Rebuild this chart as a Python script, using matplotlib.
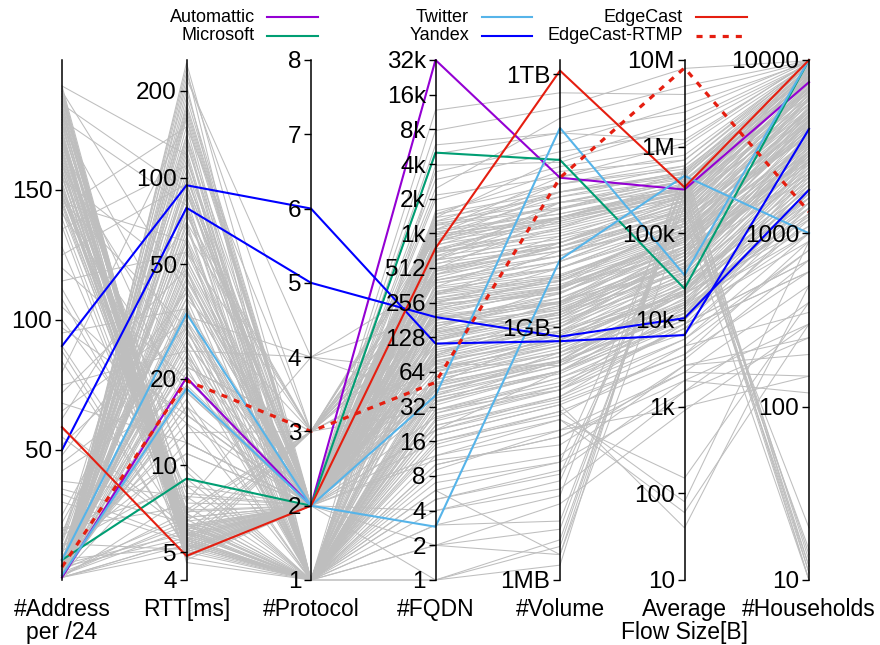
import numpy as np
import matplotlib
matplotlib.use("Agg")
import matplotlib.pyplot as plt
from matplotlib.lines import Line2D
from matplotlib.ticker import FixedLocator, NullLocator

plt.rcParams['font.family'] = ['Liberation Sans', 'DejaVu Sans']

# ---------------- axes definitions ----------------
axis_names = ['#Address\nper /24', 'RTT[ms]', '#Protocol', '#FQDN', '#Volume',
              'Average\nFlow Size[B]', '#Households']
axis_scales = ['linear', 'log', 'linear', 'log', 'log', 'log', 'log']
axis_limits = [(0, 200), (4, 256), (1, 8), (1, 32768), (1e6, 1.47e12), (10, 1e7), (10, 1e4)]
axis_ticks = [
    [50, 100, 150],
    [4, 5, 10, 20, 50, 100, 200],
    [1, 2, 3, 4, 5, 6, 7, 8],
    [1, 2, 4, 8, 16, 32, 64, 128, 256, 512, 1024, 2048, 4096, 8192, 16384, 32768],
    [1e6, 1e9, 1e12],
    [10, 100, 1e3, 1e4, 1e5, 1e6, 1e7],
    [10, 100, 1000, 10000],
]
axis_ticklabels = [
    ['50', '100', '150'],
    ['4', '5', '10', '20', '50', '100', '200'],
    ['1', '2', '3', '4', '5', '6', '7', '8'],
    ['1', '2', '4', '8', '16', '32', '64', '128', '256', '512', '1k', '2k', '4k', '8k', '16k', '32k'],
    ['1MB', '1GB', '1TB'],
    ['10', '100', '1k', '10k', '100k', '1M', '10M'],
    ['10', '100', '1000', '10000'],
]

# ---------------- highlighted series ----------------
# columns: addr, rtt, proto, fqdn, volume[B], avg flow[B], households
automattic = [1, 20.2, 2, 32768, 5.9e10, 3.2e5, 7450]
microsoft = [7.7, 9.0, 2, 5140, 9.6e10, 2.3e4, 10000]
twitter_1 = [7.7, 33.7, 2, 40, 2.3e11, 3.3e4, 10000]
twitter_2 = [1.8, 18.5, 2, 2.9, 6.3e9, 4.6e5, 1000]
yandex_1 = [50, 78.5, 5, 192, 7.7e8, 1.05e4, 1780]
yandex_2 = [90, 94, 6, 113, 6.8e8, 6.7e3, 4000]
edgecast = [58.8, 4.85, 2, 760, 1.1e12, 3.4e5, 10000]
edgecast_rtmp = [5, 19.7, 3, 52, 5.9e10, 8.1e6, 1330]

# ---------------- background (grey) series ----------------
grey_addr = [
    188, 185, 183, 180, 178, 176, 175, 172, 170, 168,
    166, 165, 163, 160, 158, 157, 155, 153, 150, 149,
    147, 146, 145, 143, 190, 187, 182, 179, 174, 171,
    167, 162, 159, 154, 151, 148, 144, 141, 186, 177,
    1, 2, 1, 3, 2, 4, 1, 5, 6, 2,
    8, 3, 1, 10, 4, 2, 12, 7, 1, 3,
    15, 2, 5, 9, 1, 18, 4, 2, 6, 1,
    22, 3, 11, 2, 14, 1, 7, 25, 3, 5,
    1, 2, 8, 20, 4, 1, 13, 6, 2, 16,
    30, 35, 42, 48, 55, 62, 68, 75, 80, 88,
    95, 100, 108, 115, 120, 128, 135, 38, 65, 105,
    189, 184, 181, 177, 173, 169, 164, 161, 156, 152,
    148, 145, 142, 139, 136, 188, 183, 175, 170, 165,
    160, 155, 150, 146, 190, 186, 180, 172, 168, 158,
    1, 1, 2, 3, 1, 2, 4, 1, 2, 5,
    3, 1, 6, 2, 1, 7, 2, 3, 1, 9,
    2, 4, 1, 12, 3, 1, 2, 5, 1, 17,
    2, 1, 3, 8, 1, 2, 10, 1, 4, 2,
    1, 6, 3, 1, 2, 14, 1, 5, 2, 19,
    33, 45, 58, 72, 84, 97, 112, 125, 52, 90]
grey_rtt = [
    5.2, 5.5, 4.8, 6.0, 5.8, 5.1, 6.5, 5.4, 4.9, 5.6,
    7.0, 5.3, 6.2, 5.0, 5.7, 8.0, 5.9, 4.7, 6.8, 5.5,
    12, 30, 60, 150, 5.3, 5.8, 6.1, 4.6, 7.5, 5.2,
    9.5, 5.6, 22, 45, 5.1, 6.4, 5.4, 18, 5.7, 80,
    20, 35, 50, 65, 100, 150, 200, 240, 15, 12,
    28, 45, 70, 120, 180, 25, 40, 30, 55, 90,
    110, 16, 14, 22, 75, 60, 35, 130, 210, 24,
    38, 48, 11, 19, 85, 170, 26, 42, 33, 95,
    5.5, 6.0, 5.2, 7.2, 6.6, 5.0, 9.0, 27, 52, 140,
    5.4, 6.3, 18, 40, 5.9, 70, 12, 25, 160, 5.1,
    35, 8.5, 6.8, 55, 20, 5.6, 110, 7.8, 32, 14,
    5.0, 5.4, 5.7, 6.2, 5.3, 4.9, 5.8, 6.6, 5.1, 5.5,
    7.4, 5.9, 6.0, 5.2, 4.8, 40, 90, 25, 5.6, 6.3,
    5.1, 5.4, 10, 5.7, 120, 5.2, 6.8, 5.0, 15, 5.3,
    18, 24, 32, 44, 60, 80, 105, 140, 190, 230,
    16, 21, 29, 38, 52, 68, 88, 115, 160, 13,
    27, 36, 47, 62, 78, 100, 135, 175, 220, 11,
    17, 23, 31, 42, 57, 74, 95, 125, 165, 250,
    5.3, 5.8, 6.2, 5.5, 6.9, 5.1, 7.8, 5.6, 6.4, 8.5,
    5.5, 22, 6.1, 48, 5.2, 15, 7.0, 95, 30, 5.9]
grey_proto = [
    2, 1, 2, 1, 2, 2, 1, 3, 2, 1,
    2, 1, 1, 2, 3, 2, 1, 2, 1, 2,
    2, 1, 2, 3, 1, 2, 2, 1, 4, 2,
    1, 2, 3, 2, 1, 2, 1, 2, 2, 1,
    2, 1, 2, 3, 2, 1, 2, 1, 2, 2,
    1, 2, 3, 1, 2, 4, 2, 1, 2, 2,
    1, 2, 1, 3, 2, 1, 2, 2, 1, 2,
    3, 1, 2, 2, 1, 2, 1, 2, 4, 2,
    1, 2, 2, 1, 2, 3, 1, 2, 2, 1,
    2, 1, 2, 2, 3, 1, 2, 1, 2, 2,
    1, 2, 1, 3, 2, 1, 2, 2, 1, 2,
    2, 1, 2, 2, 1, 2, 1, 2, 2, 1,
    2, 1, 2, 3, 1, 2, 2, 1, 2, 1,
    2, 2, 1, 2, 1, 2, 3, 1, 2, 2,
    2, 1, 2, 2, 1, 2, 1, 2, 2, 3,
    1, 2, 2, 1, 2, 1, 2, 2, 1, 3,
    2, 1, 2, 2, 1, 2, 1, 2, 4, 2,
    1, 2, 2, 1, 2, 3, 2, 1, 2, 2,
    2, 1, 2, 1, 2, 2, 1, 2, 3, 1,
    2, 1, 2, 2, 1, 2, 3, 1, 2, 2]
grey_fqdn = [
    120, 40, 300, 8, 600, 200, 25, 900, 64, 3,
    450, 15, 90, 1100, 150, 35, 6, 250, 500, 80,
    1400, 12, 700, 180, 50, 2500, 20, 110, 400, 1,
    60, 350, 75, 800, 30, 220, 4, 1000, 140, 9,
    95, 20, 1200, 300, 45, 2, 650, 130, 5000, 260,
    18, 85, 550, 10, 1500, 200, 70, 28, 3500, 160,
    7, 420, 55, 900, 240, 1, 100, 750, 33, 2000,
    380, 14, 600, 48, 5, 170, 280, 1300, 65, 8000,
    24, 480, 120, 3, 320, 1000, 42, 210, 11, 700,
    160, 22, 500, 88, 1100, 6, 260, 38, 3000, 140,
    16, 720, 52, 400, 190, 2, 850, 110, 30, 12000,
    200, 60, 450, 130, 35, 900, 18, 320, 75, 1300,
    160, 48, 600, 250, 5, 1000, 110, 28, 700, 380,
    90, 2, 1500, 55, 230, 12, 480, 140, 6000, 40,
    280, 65, 1100, 150, 38, 520, 85, 16, 820, 190,
    1200, 44, 350, 125, 4, 650, 270, 70, 1400, 30,
    180, 960, 58, 400, 10, 220, 1600, 95, 36, 560,
    145, 750, 26, 310, 1050, 68, 2200, 170, 50, 450,
    120, 1, 880, 240, 80, 1250, 22, 340, 600, 105,
    300, 45, 1000, 135, 700, 20, 260, 4000, 78, 500]
grey_vol = [
    2e9, 5e8, 8e9, 3e7, 3e10, 1e9, 2e8, 4e10, 6e8, 5e6,
    1.2e10, 1e8, 1.5e9, 6e10, 3e9, 4e8, 2e6, 5e9, 2e10, 7e8,
    1e11, 8e7, 1.5e10, 2.5e9, 9e8, 3e11, 1.5e8, 1.2e9, 7e9, 1.5e6,
    5e8, 1e10, 3.5e8, 2.5e10, 2.5e8, 4e9, 1.2e7, 5e10, 1.8e9, 6e7,
    1.1e9, 3e8, 4e10, 6e9, 4e8, 8e6, 2e10, 1.3e9, 2e11, 3.5e9,
    1.2e8, 8e8, 1.5e10, 5e7, 7e10, 2e9, 6e8, 2e8, 1.5e11, 2.5e9,
    2.5e7, 9e9, 5e8, 3e10, 3e9, 3e6, 9e8, 2e10, 3e8, 8e10,
    6e9, 8e7, 1.8e10, 4.5e8, 1.8e7, 1.6e9, 4e9, 5e10, 7e8, 4e11,
    1.8e8, 1e10, 1.5e9, 1e7, 5e9, 3.5e10, 3.5e8, 2.8e9, 4e7, 2.5e10,
    2.2e9, 1.5e8, 1e10, 1e9, 4e10, 2.5e7, 3.5e9, 3e8, 1.2e11, 1.4e9,
    9e7, 2e10, 4e8, 7e9, 1.9e9, 2e6, 3e10, 1.3e9, 1.8e8, 6e11,
    3e9, 6e8, 9e9, 1.5e9, 3e8, 2e10, 1.2e8, 4e9, 8e8, 3e10,
    2e9, 4e8, 1e10, 2.5e9, 2e7, 2e10, 1e9, 2.5e8, 1.2e10, 5e9,
    1.2e9, 4e6, 4e10, 5e8, 2.8e9, 6e7, 8e9, 1.8e9, 2e11, 3.5e8,
    3.5e9, 7e8, 2.2e10, 1.7e9, 3e8, 9e9, 9e8, 1e8, 1.6e10, 2.2e9,
    2.5e10, 3.8e8, 5e9, 1.4e9, 1.5e7, 1.1e10, 3.2e9, 7.5e8, 3.5e10, 2.2e8,
    2e9, 1.8e10, 5.5e8, 6e9, 5e7, 2.6e9, 5e10, 1e9, 2.8e8, 9e9,
    1.6e9, 1.4e10, 1.8e8, 3.8e9, 2.2e10, 6.5e8, 6e10, 1.9e9, 4.5e8, 7e9,
    1.3e9, 2.5e6, 1.7e10, 2.9e9, 8.5e8, 2.6e10, 1.4e8, 4.2e9, 1e10, 1.1e9,
    3.6e9, 3.8e8, 1.9e10, 1.5e9, 1.3e10, 1.3e8, 3e9, 9e10, 7e8, 8e9]
grey_avg = [
    4e4, 1.5e4, 1.2e5, 3e3, 3e5, 6e4, 8e3, 5e5, 2.5e4, 2.5e5,
    1.8e5, 80, 7e4, 8e5, 9e4, 2e4, 1.5e5, 1.4e5, 2.5e5, 3e4,
    2e6, 150, 3.5e5, 1e5, 2e4, 5e6, 6e3, 5e4, 2e5, 6e5,
    1.2e4, 2.8e5, 1.8e4, 4e5, 9e3, 1.1e5, 1.5e3, 6e5, 8e4, 2.5e3,
    4.5e4, 1.1e4, 4.5e5, 1.6e5, 2.2e4, 900, 3.2e5, 5.5e4, 1.2e6, 1.3e5,
    40, 3.5e4, 2.6e5, 2e3, 7e5, 1e5, 2.8e4, 1.4e4, 3e6, 9e4,
    3.5e5, 2.2e5, 2.4e4, 4e5, 1.5e5, 3e5, 4e4, 3.8e5, 1.6e4, 1e6,
    1.7e5, 60, 3e5, 2e4, 2e5, 6.5e4, 1.2e5, 5.5e5, 3.2e4, 8e6,
    8e3, 2.4e5, 6e4, 5e5, 1.4e5, 4.2e5, 2.2e4, 1e5, 3e3, 5e5,
    7e4, 9e3, 2.4e5, 5e4, 4.8e5, 1.5e3, 1.3e5, 1.5e4, 1.5e6, 6e4,
    5e3, 3.3e5, 2.5e4, 1.6e5, 8.5e4, 4.5e5, 4e5, 5.5e4, 1.2e4, 4e6,
    6e4, 1.5e4, 1.8e5, 3.5e4, 9e3, 3.5e5, 4e3, 1e5, 2e4, 4.5e5,
    7e4, 1.2e4, 2.2e5, 8e4, 2e3, 3e5, 4e4, 7e3, 2.6e5, 1.2e5,
    3e4, 3e5, 6e5, 1.6e4, 9e4, 1e3, 1.6e5, 5e4, 2.5e6, 1e4,
    8e4, 2.2e4, 3.2e5, 4.5e4, 1.1e4, 1.5e5, 2.6e4, 3.5e3, 2.8e5, 6e4,
    3.6e5, 1.3e4, 1.1e5, 3.8e4, 2e5, 2.1e5, 7.5e4, 1.9e4, 5.2e5, 8e3,
    5e4, 2.9e5, 1.7e4, 1.3e5, 2.5e3, 6.5e4, 7e5, 3e4, 1e4, 1.7e5,
    4.2e4, 2.4e5, 6e3, 9.5e4, 3.4e5, 2.1e4, 1.1e6, 5.5e4, 1.4e4, 1.45e5,
    3.6e4, 4e5, 2.7e5, 7e4, 2.4e4, 4e5, 5e3, 1.05e5, 2e5, 3.3e4,
    9e4, 1.2e4, 2.9e5, 4.6e4, 2.3e5, 4e3, 8.5e4, 1.8e6, 2.2e4, 1.9e5]
grey_hh = [
    3000, 1500, 6000, 200, 8000, 2500, 600, 9000, 1800, 12,
    5000, 900, 2200, 9500, 3500, 1200, 10, 4500, 7000, 1600,
    9800, 400, 7500, 4000, 1100, 9900, 800, 2800, 5500, 11,
    1400, 6500, 1300, 8500, 700, 3800, 250, 9200, 2600, 150,
    2900, 1000, 8800, 4200, 1700, 300, 6800, 2100, 9600, 3900,
    500, 2000, 5800, 120, 9300, 3300, 1900, 1100, 9700, 3100,
    14, 5200, 1500, 7800, 3600, 10, 2400, 6200, 1250, 9400,
    4800, 300, 6000, 1600, 20, 2700, 3700, 8200, 2300, 9900,
    600, 5000, 2800, 13, 4400, 7200, 1400, 3200, 250, 8000,
    3400, 700, 5600, 2600, 7600, 400, 4100, 1000, 9500, 3000,
    350, 6600, 1800, 4700, 2900, 12, 7400, 3500, 900, 9800,
    4500, 2200, 7000, 3800, 1400, 8500, 900, 5200, 2600, 9400,
    4700, 1900, 7600, 4000, 300, 8900, 3300, 1300, 8200, 5600,
    2800, 11, 9600, 2000, 4300, 150, 6900, 3600, 9900, 1700,
    5100, 2500, 8700, 3700, 1800, 6400, 2700, 700, 8100, 4600,
    9000, 1600, 5900, 3400, 15, 7300, 4900, 2300, 9300, 1200,
    4100, 8400, 2100, 6100, 500, 4400, 9700, 2900, 1500, 6700,
    3500, 7900, 1000, 5300, 8600, 2400, 9800, 3900, 1900, 6300,
    3200, 10, 7700, 4200, 2600, 9100, 800, 5000, 7400, 3000,
    5400, 1700, 8000, 3100, 7100, 600, 4800, 9500, 2200, 6600]

series = [
    ('Automattic', automattic, '#9400D3', '-'),
    ('Microsoft', microsoft, '#009E73', '-'),
    ('Twitter', twitter_1, '#56B4E9', '-'),
    ('Twitter', twitter_2, '#56B4E9', '-'),
    ('Yandex', yandex_1, '#0000FF', '-'),
    ('Yandex', yandex_2, '#0000FF', '-'),
    ('EdgeCast', edgecast, '#E51E10', '-'),
    ('EdgeCast-RTMP', edgecast_rtmp, '#E51E10', '--'),
]
legend_entries = [
    ('Automattic', '#9400D3', '-'), ('Microsoft', '#009E73', '-'),
    ('Twitter', '#56B4E9', '-'), ('Yandex', '#0000FF', '-'),
    ('EdgeCast', '#E51E10', '-'), ('EdgeCast-RTMP', '#E51E10', '--'),
]

# ---------------- layout ----------------
W, H = 880, 645
fig = plt.figure(figsize=(W / 100, H / 100), dpi=100)
x_px = [62 + k * 124.5 for k in range(7)]
y_top, y_bot = 60, 580
bottom = (H - y_bot) / H
height = (y_bot - y_top) / H

host = fig.add_axes([x_px[0] / W, bottom, (x_px[-1] - x_px[0]) / W, height])
host.set_xlim(0, 6)
host.set_ylim(0, 1)
host.axis('off')

sub_axes = []
for k in range(7):
    ax = fig.add_axes([x_px[k] / W, bottom, 0.002, height])
    ax.set_yscale(axis_scales[k])
    ax.set_ylim(*axis_limits[k])
    ax.patch.set_alpha(0)
    for s in ('top', 'right', 'bottom'):
        ax.spines[s].set_visible(False)
    ax.spines['left'].set_linewidth(1.1)
    ax.set_xticks([])
    ax.yaxis.set_major_locator(FixedLocator(axis_ticks[k]))
    ax.yaxis.set_minor_locator(NullLocator())
    ax.set_yticklabels(axis_ticklabels[k])
    ax.tick_params(axis='y', direction='out', length=5, width=1.0, labelsize=17.5, pad=2)
    sub_axes.append(ax)
    fig.text(x_px[k] / W, 1 - 598 / H, axis_names[k], ha='center', va='top',
             fontsize=16.5, linespacing=1.0)


def to_norm(values):
    out = []
    for k, v in enumerate(values):
        ax = sub_axes[k]
        disp = ax.transData.transform((0.5, v))
        out.append(ax.transAxes.inverted().transform(disp)[1])
    return out


xs = np.arange(7)
for row in zip(grey_addr, grey_rtt, grey_proto, grey_fqdn, grey_vol, grey_avg, grey_hh,
               strict=True):
    host.plot(xs, to_norm(row), color='#BEBEBE', lw=0.75, clip_on=False, zorder=1)

for name, vals, col, ls in series:
    kw = dict(color=col, lw=1.5, clip_on=False, zorder=3)
    if ls == '--':
        kw.update(lw=2.3, dashes=(1.9, 2.2), zorder=4)
    host.plot(xs, to_norm(vals), **kw)

# ---------------- legend (gnuplot style) ----------------
col_text_x = [255, 469, 683]
col_line_x = [(267, 318), (482, 532), (696, 747)]
row_y = [17, 35.5]
for i, (name, col, ls) in enumerate(legend_entries):
    c, r = divmod(i, 2)
    fig.text(col_text_x[c] / W, 1 - row_y[r] / H, name, ha='right', va='center', fontsize=13)
    kw = dict(color=col, lw=1.5)
    if ls == '--':
        kw.update(lw=2.3, dashes=(1.9, 2.2))
    fig.add_artist(Line2D([col_line_x[c][0] / W, col_line_x[c][1] / W],
                          [1 - row_y[r] / H, 1 - row_y[r] / H],
                          transform=fig.transFigure, **kw))

fig.savefig('out.png', dpi=100)
